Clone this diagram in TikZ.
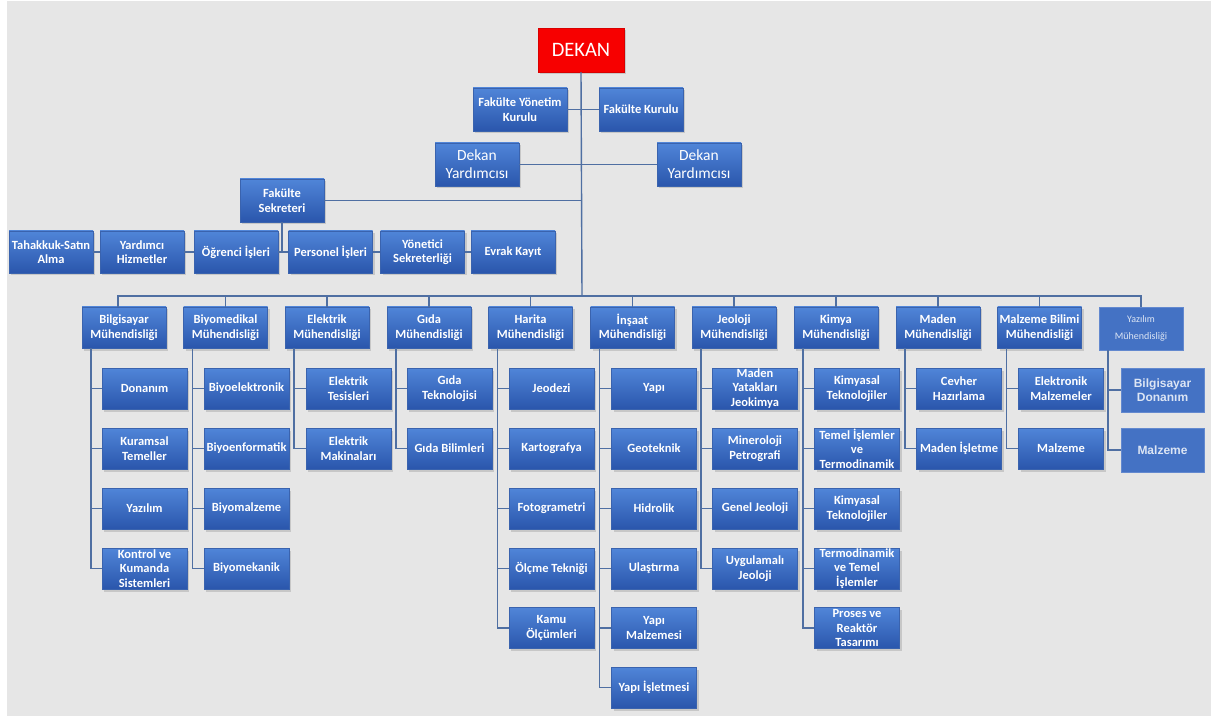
\documentclass[tikz,border=0pt]{standalone}
\usepackage{fontspec}
\setmainfont{Carlito}
\newfontfamily\arialfont{Liberation Sans}
\usetikzlibrary{shadows}
\definecolor{bggray}{HTML}{E6E6E6}
\definecolor{boxtop}{HTML}{5085D8}
\definecolor{boxbot}{HTML}{2A56AC}
\definecolor{boxedge}{HTML}{3A63AE}
\definecolor{connc}{HTML}{4F6FA2}
\definecolor{dekanred}{HTML}{F70000}
\definecolor{flatblue}{HTML}{4472C4}
\definecolor{flatedge}{HTML}{6389CF}
\definecolor{paletext}{HTML}{DCE5F4}
\newcommand\bxfont{\fontsize{12.5}{14.5}\selectfont\bfseries}
\newcommand\dkfont{\fontsize{20.5}{22}\selectfont}
\newcommand\dyfont{\fontsize{15.5}{18}\selectfont}
\newcommand\yzfont{\fontsize{10}{17}\selectfont}
\newcommand\yzcfont{\arialfont\fontsize{12}{14}\selectfont\bfseries}
\tikzset{
  box/.style={draw=boxedge, line width=0.5pt, top color=boxtop, bottom color=boxbot,
    text=white, font=\bxfont, align=center, minimum width=84pt, minimum height=41pt,
    inner sep=0pt, drop shadow={shadow xshift=2pt, shadow yshift=-2.5pt, opacity=0.3}},
  child/.style={box, minimum width=85pt},
  topbox/.style={box, minimum height=43pt},
  vicebox/.style={box, minimum height=43pt, font=\dyfont},
  redbox/.style={draw=red!85!black, fill=dekanred, text=white, font=\dkfont,
    minimum width=86pt, minimum height=44pt, inner sep=0pt,
    drop shadow={shadow xshift=2pt, shadow yshift=-2.5pt, opacity=0.3}},
  flatbox/.style={draw=flatedge, line width=0.8pt, fill=flatblue, text=paletext,
    align=center, minimum width=84pt, minimum height=43pt, inner sep=0pt},
  conn/.style={draw=connc, line width=1.4pt},
}
\begin{document}
\begin{tikzpicture}[x=1pt,y=-1pt]
\useasboundingbox (0,0) rectangle (1218,719);
\fill[white] (0,0) rectangle (1218,719);
\fill[bggray] (7,1) rectangle (1211,716);

% top
\node[redbox] (dekan) at (581,50) {DEKAN};
\node[topbox, minimum width=94pt] (fyk) at (520,109.5) {Fakülte Yönetim\\Kurulu};
\node[topbox] (fk) at (641,109.5) {Fakülte Kurulu};
\node[vicebox] (dy1) at (477,164.5) {Dekan\\Yardımcısı};
\node[vicebox] (dy2) at (699,164.5) {Dekan\\Yardımcısı};
\node[topbox] (sek) at (282,200.5) {Fakülte\\Sekreteri};

% secretary row
\node[box, minimum height=42pt] (tah) at (51,252) {Tahakkuk-Satın\\Alma};
\node[box, minimum height=42pt] (yh) at (142,252) {Yardımcı\\Hizmetler};
\node[box, minimum height=42pt] (ogr) at (236,252) {Öğrenci İşleri};
\node[box, minimum height=42pt] (per) at (330.5,252) {Personel İşleri};
\node[box, minimum height=42pt] (yon) at (422.5,252) {Yönetici\\Sekreterliği};
\node[box, minimum height=42pt] (evr) at (513,252) {Evrak Kayıt};

% departments
\coordinate (bus) at (582,296);
\node[box] (d1) at (124,327.5) {Bilgisayar\\Mühendisliği};
\node[box] (d2) at (225.5,327.5) {Biyomedikal\\Mühendisliği};
\node[box] (d3) at (327,327.5) {Elektrik\\Mühendisliği};
\node[box] (d4) at (429,327.5) {Gıda\\Mühendisliği};
\node[box] (d5) at (530.5,327.5) {Harita\\Mühendisliği};
\node[box] (d6) at (632.5,327.5) {İnşaat\\Mühendisliği};
\node[box] (d7) at (734,327.5) {Jeoloji\\Mühendisliği};
\node[box] (d8) at (836,327.5) {Kimya\\Mühendisliği};
\node[box] (d9) at (938,327.5) {Maden\\Mühendisliği};
\node[box] (d10) at (1039.5,327.5) {Malzeme Bilimi\\Mühendisliği};
\node[flatbox, font=\yzfont] (d11) at (1141,328.5) {Yazılım\\Mühendisliği};

% children
\node[child] (c1a) at (144.5,388.5) {Donanım};
\node[child] (c1b) at (144.5,448.5) {Kuramsal\\Temeller};
\node[child] (c1c) at (144.5,508.5) {Yazılım};
\node[child] (c1d) at (144.5,568.5) {Kontrol ve\\Kumanda\\Sistemleri};

\node[child] (c2a) at (246.5,388.5) {Biyoelektronik};
\node[child] (c2b) at (246.5,448.5) {Biyoenformatik};
\node[child] (c2c) at (246.5,508.5) {Biyomalzeme};
\node[child] (c2d) at (246.5,568.5) {Biyomekanik};

\node[child] (c3a) at (348.5,388.5) {Elektrik\\Tesisleri};
\node[child] (c3b) at (348.5,448.5) {Elektrik\\Makinaları};

\node[child] (c4a) at (449.5,388.5) {Gıda\\Teknolojisi};
\node[child] (c4b) at (449.5,448.5) {Gıda Bilimleri};

\node[child] (c5a) at (551.5,388.5) {Jeodezi};
\node[child] (c5b) at (551.5,448.5) {Kartografya};
\node[child] (c5c) at (551.5,508.5) {Fotogrametri};
\node[child] (c5d) at (551.5,568.5) {Ölçme Tekniği};
\node[child] (c5e) at (551.5,628) {Kamu\\Ölçümleri};

\node[child] (c6a) at (654,388.5) {Yapı};
\node[child] (c6b) at (654,448.5) {Geoteknik};
\node[child] (c6c) at (654,508.5) {Hidrolik};
\node[child] (c6d) at (654,568.5) {Ulaştırma};
\node[child] (c6e) at (654,628) {Yapı\\Malzemesi};
\node[child] (c6f) at (654,687.5) {Yapı İşletmesi};

\node[child] (c7a) at (755,388.5) {Maden\\Yatakları\\Jeokimya};
\node[child] (c7b) at (755,448.5) {Mineroloji\\Petrografi};
\node[child] (c7c) at (755,508.5) {Genel Jeoloji};
\node[child] (c7d) at (755,568.5) {Uygulamalı\\Jeoloji};

\node[child] (c8a) at (857,388.5) {Kimyasal\\Teknolojiler};
\node[child] (c8b) at (857,448.5) {Temel İşlemler\\ve\\Termodinamik};
\node[child] (c8c) at (857,508.5) {Kimyasal\\Teknolojiler};
\node[child] (c8d) at (857,568.5) {Termodinamik\\ve Temel\\İşlemler};
\node[child] (c8e) at (857,628) {Proses ve\\Reaktör\\Tasarımı};

\node[child] (c9a) at (959,388.5) {Cevher\\Hazırlama};
\node[child] (c9b) at (959,448.5) {Maden İşletme};

\node[child] (c10a) at (1061,388.5) {Elektronik\\Malzemeler};
\node[child] (c10b) at (1061,448.5) {Malzeme};

\node[flatbox, font=\yzcfont, minimum width=83pt, minimum height=44pt] (c11a) at (1162.5,390) {Bilgisayar\\Donanım};
\node[flatbox, font=\yzcfont, minimum width=83pt, minimum height=44pt] (c11b) at (1162.5,450) {Malzeme};

% connectors: top
\draw[conn] (dekan.south) -- (bus);
\draw[conn] (fyk.east) -- (fk.west);
\draw[conn] (dy1.east) -- (dy2.west);
\draw[conn] (sek.east) -- (sek.east -| dekan.south);
\draw[conn] (sek.south) -- (sek.south |- ogr.east);
\draw[conn] (tah.east) -- (yh.west);
\draw[conn] (yh.east) -- (ogr.west);
\draw[conn] (ogr.east) -- (per.west);
\draw[conn] (per.east) -- (yon.west);
\draw[conn] (yon.east) -- (evr.west);

% bus to departments
\draw[conn] (bus) -| ([xshift=-6pt]d1.north);
\foreach \d in {d2,d3,d4,d5,d6,d7,d8,d9,d10,d11}
  \draw[conn] (bus) -| (\d.north);

% department spines
\foreach \d/\c in {d1/c1a,d1/c1b,d1/c1c,d1/c1d,
                   d2/c2a,d2/c2b,d2/c2c,d2/c2d,
                   d3/c3a,d3/c3b,
                   d4/c4a,d4/c4b,
                   d5/c5a,d5/c5b,d5/c5c,d5/c5d,d5/c5e,
                   d6/c6a,d6/c6b,d6/c6c,d6/c6d,d6/c6e,d6/c6f,
                   d7/c7a,d7/c7b,d7/c7c,d7/c7d,
                   d8/c8a,d8/c8b,d8/c8c,d8/c8d,d8/c8e,
                   d9/c9a,d9/c9b,
                   d10/c10a,d10/c10b,
                   d11/c11a,d11/c11b}
  \draw[conn] ([xshift=-33pt]\d.south) |- (\c.west);
\end{tikzpicture}
\end{document}
